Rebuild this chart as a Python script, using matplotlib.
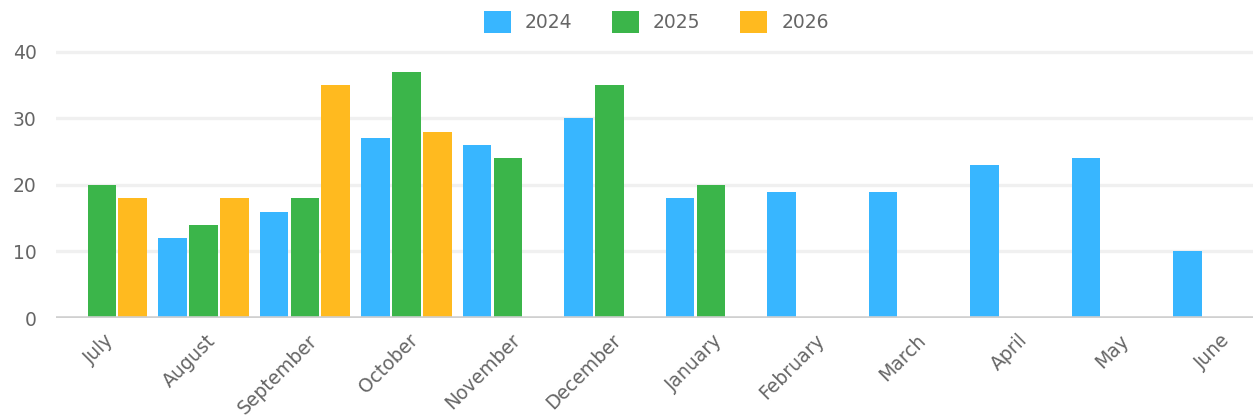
import numpy as np
import matplotlib.pyplot as plt
from matplotlib.transforms import ScaledTranslation

months = ["July", "August", "September", "October", "November", "December",
          "January", "February", "March", "April", "May", "June"]
years = ["2024", "2025", "2026"]
v2024 = [np.nan, 12, 16, 27, 26, 30, 18, 19, 19, 23, 24, 10]
v2025 = [20, 14, 18, 37, 24, 35, 20, np.nan, np.nan, np.nan, np.nan, np.nan]
v2026 = [18, 18, 35, 28, np.nan, np.nan, np.nan, np.nan, np.nan, np.nan, np.nan, np.nan]
colors = ["#38b6ff", "#3bb54a", "#ffba1f"]

fig = plt.figure(figsize=(12.53, 4.2), dpi=100)
ax = fig.add_axes([56 / 1253, 102 / 420, 1197 / 1253, 268 / 420])

x = np.arange(len(months))
offset = 0.305
width = 0.285
for k, (vals, c, lab) in enumerate(zip([v2024, v2025, v2026], colors, years)):
    ax.bar(x + (k - 1) * offset, vals, width=width, color=c, label=lab, zorder=3)

ax.set_xlim(-0.453, 11.34)
ax.set_ylim(0, 40.3)
ax.set_yticks([0, 10, 20, 30, 40])
ax.yaxis.grid(True, color="#f0f0f0", linewidth=2.4, zorder=0)
ax.axhline(0, color="#d0d0d0", linewidth=2.6, zorder=4)

for s in ax.spines.values():
    s.set_visible(False)
ax.tick_params(axis="y", length=0, pad=14, labelsize=13.5, labelcolor="#666666")
ax.tick_params(axis="x", length=0, pad=14)
ax.set_xticks(x)
ax.set_xticklabels(months, rotation=45, ha="right", va="center",
                   rotation_mode="anchor", fontsize=13.5, color="#666666")
shift = ScaledTranslation(9 / 100, 0, fig.dpi_scale_trans)
for t in ax.get_xticklabels():
    t.set_transform(t.get_transform() + shift)

fig.legend(loc="upper center", bbox_to_anchor=(0.5236, 1.015), ncol=3, frameon=False,
           fontsize=13.5, handlelength=1.45, handleheight=1.5, handletextpad=0.75,
           columnspacing=2.1, labelcolor="#666666")

fig.savefig("out.png", dpi=100)
